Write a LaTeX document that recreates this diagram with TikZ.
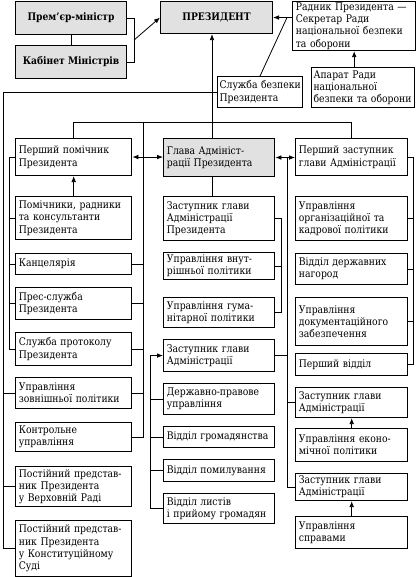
\documentclass[tikz,border=0pt]{standalone}
\usepackage{fontspec}
\setmainfont{DejaVu Serif}[FakeStretch=0.88]
\usetikzlibrary{arrows.meta,calc}
\definecolor{headgray}{RGB}{225,225,225}
\newcommand{\unitfont}{\fontsize{7.9}{9.2}\selectfont}
\newcommand{\headfont}{\fontsize{7.8}{9.2}\selectfont\bfseries}

\begin{document}
\begin{tikzpicture}[x=0.75pt, y=-0.75pt,
  unit/.style={draw, line width=.8pt, anchor=north west, align=left,
    inner xsep=2.5pt, inner ysep=0pt, font=\unitfont},
  head/.style={unit, fill=headgray, align=center, font=\headfont},
  bw/.style={minimum width=#1*0.75pt, text width=#1*0.75pt-4pt},
  tight/.style={inner xsep=1.5pt, text width=#1*0.75pt-3pt},
  hw/.style={minimum width=#1*0.75pt},
  bh/.style={minimum height=#1*0.75pt},
  link/.style={line width=.6pt},
  arr/.style={link, -{Latex[length=4.5pt,width=3.5pt]}},
  darr/.style={link, {Latex[length=4.5pt,width=3.5pt]}-{Latex[length=4.5pt,width=3.5pt]}}]
\useasboundingbox (0,0) rectangle (417,577);

% Top level
\node[head, hw=111, bh=33] (pm) at (15,1) {Прем’єр-міністр};
\node[head, hw=111, bh=33] (km) at (15,45) {Кабінет Міністрів};
\node[head, hw=112, bh=32] (pres) at (160,1) {ПРЕЗИДЕНТ};
\node[unit, bw=122, bh=49] (radnyk) at (292,1) {\mbox{Радник Президента —}\\Секретар Ради\\національної безпеки\\та оборони};
\node[unit, bw=103, tight=103, bh=40] (aparat) at (311,67) {Апарат Ради\\національної\\\mbox{безпеки та оборони}};
\node[unit, bw=85, tight=85, bh=31] (sbp) at (217,76) {\mbox{Служба безпеки}\\Президента};

% Column 1
\node[unit, bw=115, bh=37] (c1a) at (15,138) {Перший помічник\\Президента};
\node[unit, bw=115, bh=43] (c1b) at (15,196) {Помічники, радники\\та консультанти\\Президента};
\node[unit, bw=115, bh=21] (c1c) at (15,253) {Канцелярія};
\node[unit, bw=115, bh=32] (c1d) at (15,287) {Прес-служба\\Президента};
\node[unit, bw=115, bh=33] (c1e) at (15,332) {Служба протоколу\\Президента};
\node[unit, bw=115, bh=31] (c1f) at (15,377) {Управління\\зовнішньої політики};
\node[unit, bw=115, bh=29] (c1g) at (15,422) {Контрольне\\управління};
\node[unit, bw=115, bh=40] (c1h) at (15,466) {Постійний представ-\\ник Президента\\у Верховній Раді};
\node[unit, bw=115, bh=56] (c1i) at (15,520) {Постійний представ-\\ник Президента\\у Конституційному\\Суді};

% Column 2
\node[unit, bw=110, bh=38, fill=headgray] (c2a) at (163,138) {Глава Адмініст-\\рації Президента};
\node[unit, bw=110, bh=44] (c2b) at (163,196) {Заступник глави\\Адміністрації\\Президента};
\node[unit, bw=110, bh=27] (c2c) at (163,252) {Управління внут-\\рішньої політики};
\node[unit, bw=110, bh=30] (c2d) at (163,297) {Управління гума-\\нітарної політики};
\node[unit, bw=110, bh=32] (c2e) at (163,339) {Заступник глави\\Адміністрації};
\node[unit, bw=110, bh=31] (c2f) at (163,383) {Державно-правове\\управління};
\node[unit, bw=110, bh=21] (c2g) at (163,426) {\mbox{Відділ громадянства}};
\node[unit, bw=110, bh=22] (c2h) at (163,459) {\mbox{Відділ помилування}};
\node[unit, bw=110, bh=30] (c2i) at (163,493) {Відділ листів\\і прийому громадян};

% Column 3
\node[unit, bw=111, bh=37] (c3a) at (295,138) {Перший заступник\\глави Адміністрації};
\node[unit, bw=111, bh=44] (c3b) at (295,196) {Управління\\організаційної та\\кадрової політики};
\node[unit, bw=111, bh=31] (c3c) at (295,253) {Відділ державних\\нагород};
\node[unit, bw=111, bh=48] (c3d) at (295,297) {Управління\\документаційного\\забезпечення};
\node[unit, bw=111, bh=22] (c3e) at (295,353) {Перший відділ};
\node[unit, bw=111, bh=30] (c3f) at (295,387) {Заступник глави\\Адміністрації};
\node[unit, bw=111, bh=33] (c3g) at (295,428) {Управління еконо-\\мічної політики};
\node[unit, bw=111, bh=27] (c3h) at (295,473) {Заступник глави\\Адміністрації};
\node[unit, bw=111, bh=32] (c3i) at (295,516) {Управління\\справами};

% Bus lines
\coordinate (lbo) at (3,0);
\coordinate (lbi) at (9,0);
\coordinate (rb1) at (143,0);
\coordinate (lb2) at (150,0);
\coordinate (rb2) at (281,0);
\coordinate (mb) at (287,0);
\coordinate (rb3) at (413,0);
\coordinate (hb) at (0,122);
\coordinate (ax) at (212,0);

% Government and council
\draw[link] (pm.south) -- (km.north);
\draw[link] (pm.east) -- ++(7,0) |- (km.east);
\coordinate (pk) at ($(pm.east)!.5!(km.east)+(7,0)$);
\draw[arr] (pk) -- (pres.west);
\draw[arr] (radnyk.west |- pres.east) -- (pres.east);
\coordinate (j) at ($(radnyk.west |- pres.east)+(-5,0)$);
\draw[link] (sbp.north) -- (j);
\draw[arr] (aparat.north -| radnyk.south) -- (radnyk.south);

% Administration to President
\draw[arr] (c2a.north -| ax) -- (pres.south -| ax);
\draw[link] (sbp.west) -- (sbp.west -| lbo) |- (c1i.west);
\foreach \n in {c1f,c1h} \draw[link] (\n.west) -- (\n.west -| lbo);
\draw[link] (c1a.north) -- (c1a.north |- hb) -- (c3a.north |- hb) -- (c3a.north);
\draw[link] (rb1 |- hb) |- (c1g.east);
\foreach \n in {c1c,c1d,c1e,c1f} \draw[link] (\n.east) -- (\n.east -| rb1);

% Column 1
\draw[link] (c1a.west) -- (c1a.west -| lbi) |- (c1e.west);
\foreach \n in {c1b,c1c,c1d} \draw[link] (\n.west) -- (\n.west -| lbi);
\draw[arr] (c1b.north) -- (c1a.south);
\draw[darr] (c1a.east) -- (c1a.east -| c2a.west);

% Column 2
\draw[link] (c2a.south -| ax) -- (c2b.north -| ax);
\draw[link] (c2b.east) -- (c2b.east -| rb2) |- (c2d.east);
\draw[link] (c2c.east) -- (c2c.east -| rb2);
\draw[arr] (c2i.west) -- (c2i.west -| lb2) |- (c2e.west);
\foreach \n in {c2f,c2g,c2h} \draw[link] (\n.west) -- (\n.west -| lb2);

% Column 3
\draw[darr] (c2a.east) -- (c2a.east -| c3a.west);
\draw[link] (c2a.east -| mb) |- (c3h.west);
\draw[link] (c2e.east) -- (c2e.east -| mb);
\draw[link] (c3f.west) -- (c3f.west -| mb);
\draw[link] (c3a.east) -- (c3a.east -| rb3) |- (c3e.east);
\foreach \n in {c3b,c3c,c3d} \draw[link] (\n.east) -- (\n.east -| rb3);
\draw[arr] (c3g.north) -- (c3f.south);
\draw[arr] (c3i.north) -- (c3h.south);
\end{tikzpicture}
\end{document}
